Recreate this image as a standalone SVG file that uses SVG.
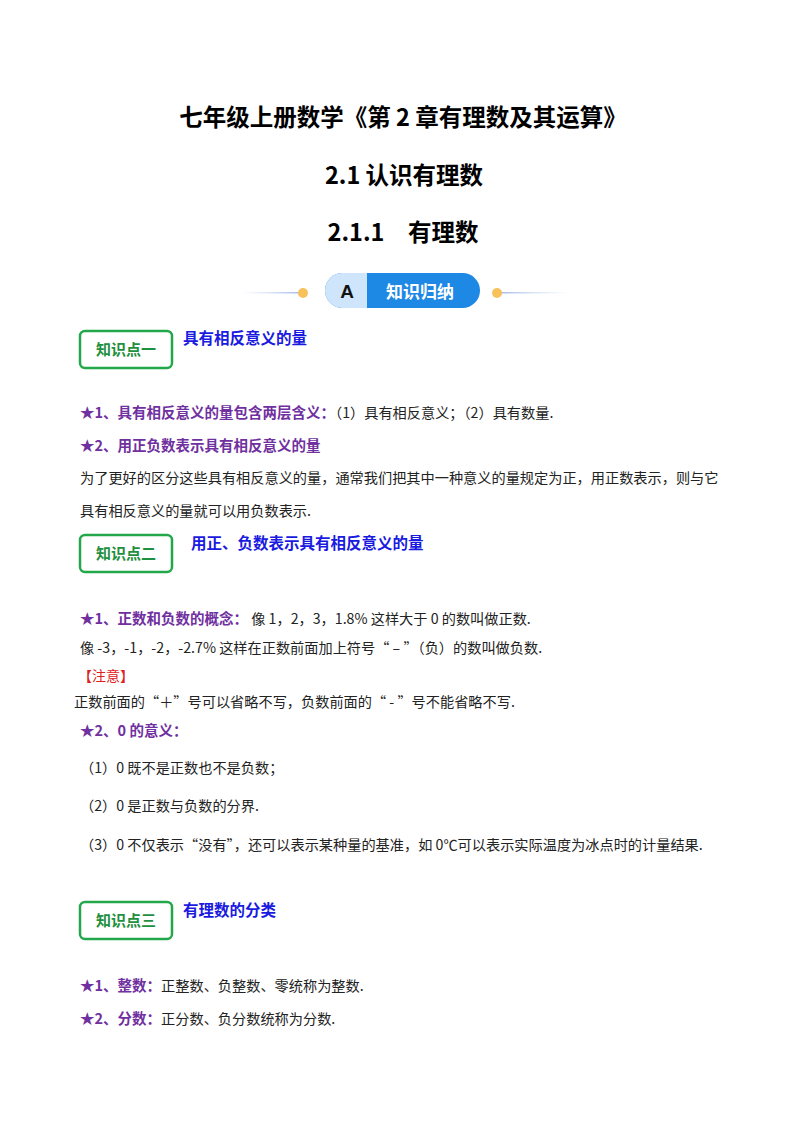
<svg xmlns="http://www.w3.org/2000/svg" width="800" height="1132" viewBox="0 0 800 1132">
<defs>
<style>
text{font-family:"Noto Sans CJK SC","Liberation Sans",sans-serif;}
.t{font-size:23.5px;font-weight:bold;fill:#000;text-anchor:middle}
.b{font-size:14.2px;fill:#222}
.p{font-size:14.5px;font-weight:bold;fill:#7030a0}
.h{font-size:15.5px;font-weight:bold;fill:#1a1ae0}
.box{fill:#fff;stroke:#22a84a;stroke-width:2.5}
.bt{font-size:15px;fill:#1f8f40;text-anchor:middle;font-weight:bold}
</style>
<linearGradient id="gl" x1="0" x2="1"><stop offset="0" stop-color="#c9d6f0" stop-opacity="0"/><stop offset="1" stop-color="#9fb6e8"/></linearGradient>
<linearGradient id="gr" x1="0" x2="1"><stop offset="0" stop-color="#9fb6e8"/><stop offset="1" stop-color="#c9d6f0" stop-opacity="0"/></linearGradient>
</defs>
<rect width="800" height="1132" fill="#fff"/>
<text class="t" x="403" y="126">七年级上册数学《第 2 章有理数及其运算》</text>
<text class="t" x="404" y="184">2.1 认识有理数</text>
<text class="t" x="403" y="241">2.1.1　有理数</text>
<g id="badge">
<rect x="240" y="292" width="63" height="1.5" fill="url(#gl)"/>
<rect x="497" y="292" width="73" height="1.5" fill="url(#gr)"/>
<circle cx="303" cy="293" r="5" fill="#f7c25c"/>
<circle cx="497" cy="293" r="5" fill="#f7c25c"/>
<rect x="325" y="273" width="155" height="35" rx="17.5" fill="#1e88e5"/>
<path d="M342.5 273 H367 V308 H342.5 A17.5 17.5 0 0 1 342.5 273 Z" fill="#cfe5fb"/>
<text x="347" y="298" font-size="19" font-weight="bold" fill="#111" text-anchor="middle" style="font-family:'Liberation Sans',sans-serif">A</text>
<text x="420" y="298" font-size="17" font-weight="bold" fill="#fff" text-anchor="middle">知识归纳</text>
</g>
<g id="k1">
<rect class="box" x="80" y="331" width="92" height="37" rx="5"/>
<text class="bt" x="126" y="355">知识点一</text>
<text class="h" x="183" y="344">具有相反意义的量</text>
</g>
<text x="80" y="418"><tspan class="p">★1、具有相反意义的量包含两层含义：</tspan><tspan class="b">（1）具有相反意义；（2）具有数量.</tspan></text>
<text class="p" x="80" y="451">★2、用正负数表示具有相反意义的量</text>
<text class="b" x="80" y="483">为了更好的区分这些具有相反意义的量，通常我们把其中一种意义的量规定为正，用正数表示，则与它</text>
<text class="b" x="80" y="516">具有相反意义的量就可以用负数表示.</text>
<g id="k2">
<rect class="box" x="80" y="535" width="92" height="37" rx="5"/>
<text class="bt" x="126" y="559">知识点二</text>
<text class="h" x="191" y="549">用正、负数表示具有相反意义的量</text>
</g>
<text x="80" y="624"><tspan class="p">★1、正数和负数的概念：</tspan><tspan class="b">  像 1，2，3，1.8%  这样大于  0  的数叫做正数.</tspan></text>
<text class="b" x="80" y="653">像 -3，-1，-2，-2.7%  这样在正数前面加上符号“ – ”（负）的数叫做负数.</text>
<text x="78" y="681" font-size="14" fill="#e02020">【注意】</text>
<text class="b" x="74" y="707">正数前面的“＋”号可以省略不写，负数前面的“ - ”号不能省略不写.</text>
<text class="p" x="80" y="736">★2、0  的意义：</text>
<text class="b" x="80" y="773">（1）0 既不是正数也不是负数；</text>
<text class="b" x="80" y="811">（2）0 是正数与负数的分界.</text>
<text class="b" x="80" y="850">（3）0 不仅表示“没有”，还可以表示某种量的基准，如 0℃可以表示实际温度为冰点时的计量结果.</text>
<g id="k3">
<rect class="box" x="80" y="902" width="92" height="37" rx="5"/>
<text class="bt" x="126" y="926">知识点三</text>
<text class="h" x="183" y="916">有理数的分类</text>
</g>
<text x="80" y="991"><tspan class="p">★1、整数：</tspan><tspan class="b">正整数、负整数、零统称为整数.</tspan></text>
<text x="80" y="1024"><tspan class="p">★2、分数：</tspan><tspan class="b">正分数、负分数统称为分数.</tspan></text>
</svg>
